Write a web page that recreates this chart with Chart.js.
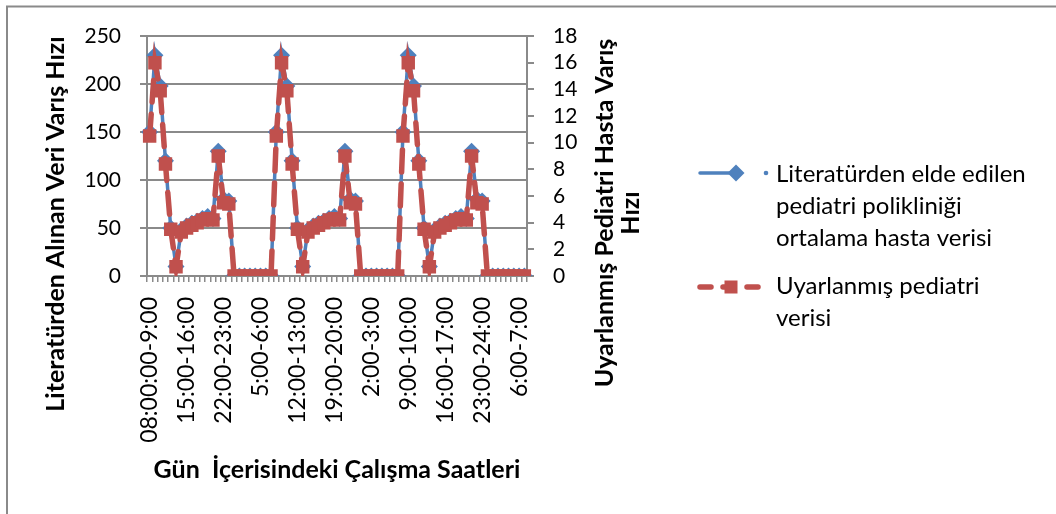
<!DOCTYPE html>
<html>
<head>
<meta charset="utf-8">
<script src="https://cdn.jsdelivr.net/npm/chart.js@4.4.1/dist/chart.umd.min.js"></script>
<style>
  html, body { margin: 0; padding: 0; background: #ffffff; }
  canvas { display: block; }
</style>
</head>
<body>
<canvas id="chart" width="1056" height="514"></canvas>
<script>
// Hourly working slots over three consecutive days
const hourLabels = [
  "08:00:00-9:00", "9:00-10:00", "10:00-11:00", "11:00-12:00", "12:00-13:00", "13:00-14:00",
  "14:00-15:00", "15:00-16:00", "16:00-17:00", "17:00-18:00", "18:00-19:00", "19:00-20:00",
  "20:00-21:00", "21:00-22:00", "22:00-23:00", "23:00-24:00", "0:00-1:00", "1:00-2:00",
  "2:00-3:00", "3:00-4:00", "4:00-5:00", "5:00-6:00", "6:00-7:00", "7:00-8:00",
  "8:00-9:00", "9:00-10:00", "10:00-11:00", "11:00-12:00", "12:00-13:00", "13:00-14:00",
  "14:00-15:00", "15:00-16:00", "16:00-17:00", "17:00-18:00", "18:00-19:00", "19:00-20:00",
  "20:00-21:00", "21:00-22:00", "22:00-23:00", "23:00-24:00", "0:00-1:00", "1:00-2:00",
  "2:00-3:00", "3:00-4:00", "4:00-5:00", "5:00-6:00", "6:00-7:00", "7:00-8:00",
  "8:00-9:00", "9:00-10:00", "10:00-11:00", "11:00-12:00", "12:00-13:00", "13:00-14:00",
  "14:00-15:00", "15:00-16:00", "16:00-17:00", "17:00-18:00", "18:00-19:00", "19:00-20:00",
  "20:00-21:00", "21:00-22:00", "22:00-23:00", "23:00-24:00", "0:00-1:00", "1:00-2:00",
  "2:00-3:00", "3:00-4:00", "4:00-5:00", "5:00-6:00", "6:00-7:00", "7:00-8:00"
];

// Average hourly patient arrivals of a pediatric outpatient clinic (left axis)
const literatureRate = [
  150, 230, 198, 120, 50, 10, 48, 52, 55, 57, 60, 62, 60, 130, 80, 78, 0, 0, 0, 0, 0, 0, 0, 0,
  150, 230, 198, 120, 50, 10, 48, 52, 55, 57, 60, 62, 60, 130, 80, 78, 0, 0, 0, 0, 0, 0, 0, 0,
  150, 230, 198, 120, 50, 10, 48, 52, 55, 57, 60, 62, 60, 130, 80, 78, 0, 0, 0, 0, 0, 0, 0, 0
];

// Adapted pediatric arrivals (right axis)
const adaptedRate = [
  10.5, 16, 13.9, 8.4, 3.5, 0.7, 3.3, 3.6, 3.8, 4.0, 4.2, 4.3, 4.2, 9.0, 5.5, 5.4, 0, 0, 0, 0, 0, 0, 0, 0,
  10.5, 16, 13.9, 8.4, 3.5, 0.7, 3.3, 3.6, 3.8, 4.0, 4.2, 4.3, 4.2, 9.0, 5.5, 5.4, 0, 0, 0, 0, 0, 0, 0, 0,
  10.5, 16, 13.9, 8.4, 3.5, 0.7, 3.3, 3.6, 3.8, 4.0, 4.2, 4.3, 4.2, 9.0, 5.5, 5.4, 0, 0, 0, 0, 0, 0, 0, 0
];

// Axis ranges and tick steps
const leftAxisTicks = [0, 50, 100, 150, 200, 250];
const rightAxisTicks = [0, 2, 4, 6, 8, 10, 12, 14, 16, 18];
const hourLabelStep = 7;

const seriesNames = [
  ["Literatürden elde edilen", "pediatri polikliniği", "ortalama hasta verisi"],
  ["Uyarlanmış pediatri", "verisi"]
];
const leftTitle = "Literatürden Alınan Veri Varış Hızı";
const rightTitle = ["Uyarlanmış Pediatri Hasta Varış", "Hızı"];
const bottomTitle = "Gün  İçerisindeki Çalışma Saatleri";

const BLUE = "#4F81BD";
const RED = "#C0504D";
const AXIS = "#8a8a8a";
const FONT = "Lato, 'Open Sans', sans-serif";

// Frame, axis titles and the legend drawn directly on the canvas
const decorations = {
  id: "decorations",
  beforeDraw(chart) {
    const ctx = chart.ctx;
    ctx.save();
    ctx.fillStyle = "#ffffff";
    ctx.fillRect(0, 0, chart.width, chart.height);
    ctx.strokeStyle = AXIS;
    ctx.lineWidth = 2;
    ctx.strokeRect(7, 6.5, chart.width + 20, chart.height + 20);
    ctx.restore();
  },
  afterDraw(chart) {
    const ctx = chart.ctx;
    const area = chart.chartArea;
    ctx.save();
    ctx.fillStyle = "#000000";
    ctx.textAlign = "center";
    ctx.textBaseline = "middle";

    // left axis title
    ctx.font = "bold 25px " + FONT;
    ctx.save();
    ctx.translate(56, 224);
    ctx.rotate(-Math.PI / 2);
    ctx.fillText(leftTitle, 0, 0);
    ctx.restore();

    // right axis title (two lines)
    rightTitle.forEach((line, i) => {
      ctx.save();
      ctx.translate(605 + i * 26, 213);
      ctx.rotate(-Math.PI / 2);
      ctx.fillText(line, 0, 0);
      ctx.restore();
    });

    // bottom axis title
    ctx.fillText(bottomTitle, (area.left + area.right) / 2, 470);

    // legend
    ctx.textAlign = "left";
    ctx.textBaseline = "alphabetic";
    ctx.font = "24px " + FONT;
    const textX = 776;
    const baselines = [[181.5, 213.5, 245.5], [293.5, 325.5]];
    seriesNames.forEach((lines, s) => {
      lines.forEach((t, j) => ctx.fillText(t, textX, baselines[s][j]));
    });

    // blue sample: solid line, diamond, dot
    let y = 173;
    ctx.strokeStyle = BLUE;
    ctx.fillStyle = BLUE;
    ctx.lineWidth = 3.5;
    ctx.lineCap = "round";
    ctx.beginPath();
    ctx.moveTo(700, y);
    ctx.lineTo(732, y);
    ctx.stroke();
    ctx.beginPath();
    ctx.moveTo(736, y - 8.5);
    ctx.lineTo(744.5, y);
    ctx.lineTo(736, y + 8.5);
    ctx.lineTo(727.5, y);
    ctx.closePath();
    ctx.fill();
    ctx.beginPath();
    ctx.arc(766, y, 2.3, 0, Math.PI * 2);
    ctx.fill();

    // red sample: dashes and square
    y = 287;
    ctx.strokeStyle = RED;
    ctx.fillStyle = RED;
    ctx.lineWidth = 5.5;
    [[700, 711], [723, 727], [747, 758]].forEach(([a, b]) => {
      ctx.beginPath();
      ctx.moveTo(a, y);
      ctx.lineTo(b, y);
      ctx.stroke();
    });
    ctx.fillRect(731 - 6.5, y - 6.5, 13, 13);
    ctx.restore();
  }
};

new Chart(document.getElementById("chart"), {
  type: "line",
  data: {
    labels: hourLabels,
    datasets: [
      {
        label: seriesNames[0].join(" "),
        data: literatureRate,
        yAxisID: "y",
        order: 1,
        borderColor: BLUE,
        backgroundColor: BLUE,
        borderWidth: 3.5,
        tension: 0,
        pointStyle: "rectRot",
        pointRadius: 8.5,
        pointBorderWidth: 0,
        pointBackgroundColor: BLUE
      },
      {
        label: seriesNames[1].join(" "),
        data: adaptedRate,
        yAxisID: "y1",
        order: 0,
        borderColor: RED,
        backgroundColor: RED,
        borderWidth: 5.5,
        borderDash: [22, 12],
        borderCapStyle: "round",
        tension: 0,
        pointStyle: "rect",
        pointRadius: 9.5,
        pointBorderWidth: 0,
        pointBackgroundColor: RED
      }
    ]
  },
  options: {
    responsive: false,
    animation: false,
    devicePixelRatio: 1,
    layout: { padding: { left: 45, top: 36, right: 409, bottom: 38 } },
    plugins: {
      legend: { display: false },
      tooltip: { enabled: false }
    },
    scales: {
      x: {
        type: "category",
        offset: true,
        grid: {
          offset: true,
          drawOnChartArea: false,
          drawTicks: true,
          tickLength: 6,
          color: AXIS,
          lineWidth: 1.5
        },
        border: { color: AXIS, width: 2 },
        ticks: {
          autoSkip: false,
          minRotation: 90,
          maxRotation: 90,
          padding: 15,
          color: "#000000",
          font: { family: FONT, size: 23 },
          callback: (v, i) => (i % hourLabelStep === 0 ? hourLabels[i] : "")
        },
        afterFit: (s) => { s.height = 200; }
      },
      y: {
        position: "left",
        min: leftAxisTicks[0],
        max: leftAxisTicks[leftAxisTicks.length - 1],
        afterBuildTicks: (s) => { s.ticks = leftAxisTicks.map(v => ({ value: v })); },
        grid: { color: AXIS, lineWidth: 2, drawTicks: true, tickLength: 7 },
        border: { color: AXIS, width: 2 },
        ticks: {
          autoSkip: false,
          padding: 19,
          color: "#000000",
          font: { family: FONT, size: 21 }
        },
        afterFit: (s) => { s.width = 102; }
      },
      y1: {
        position: "right",
        min: rightAxisTicks[0],
        max: rightAxisTicks[rightAxisTicks.length - 1],
        afterBuildTicks: (s) => { s.ticks = rightAxisTicks.map(v => ({ value: v })); },
        grid: { drawOnChartArea: false, color: AXIS, lineWidth: 2, drawTicks: true, tickLength: 7 },
        border: { color: AXIS, width: 2 },
        ticks: {
          autoSkip: false,
          padding: 19,
          color: "#000000",
          font: { family: FONT, size: 21 }
        },
        afterFit: (s) => { s.width = 120; }
      }
    }
  },
  plugins: [decorations]
});
</script>
</body>
</html>
